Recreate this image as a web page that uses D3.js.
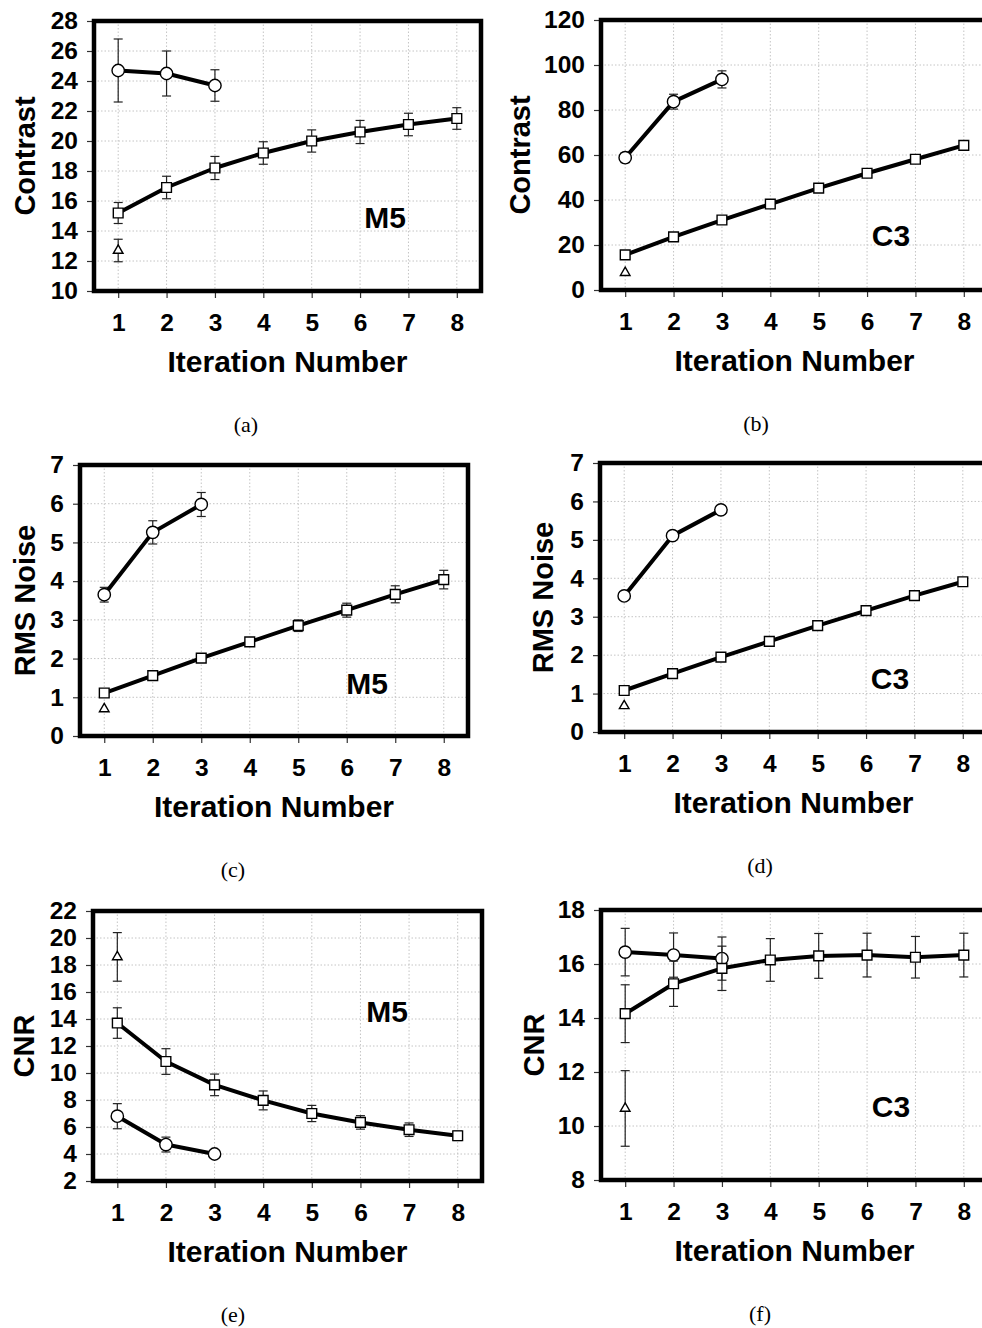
<!DOCTYPE html>
<html>
<head>
<meta charset="utf-8">
<style>
  body { margin: 0; background: #fff; }
  text { font-family: "Liberation Sans", Arial, Helvetica, sans-serif; }
</style>
</head>
<body>
<div id="my_dataviz"></div>
<script src="https://d3js.org/d3.v7.min.js"></script>
<script>

// iteration numbers on every x axis
var iterations = [1, 2, 3, 4, 5, 6, 7, 8];

// (a) Contrast, M5
var contrastM5Circle    = [24.7, 24.5, 23.7];
var contrastM5CircleErr = [2.1, 1.5, 1.05];
var contrastM5Square    = [15.2, 16.9, 18.2, 19.2, 20.0, 20.6, 21.1, 21.5];
var contrastM5SquareErr = [0.7, 0.75, 0.77, 0.75, 0.74, 0.77, 0.75, 0.72];
var contrastM5Tri       = [12.7];
var contrastM5TriErr    = [0.75];
var contrastM5Ticks     = [10, 12, 14, 16, 18, 20, 22, 24, 26, 28];

// (b) Contrast, C3
var contrastC3Circle    = [58.8, 83.7, 93.6];
var contrastC3CircleErr = [2.2, 3.3, 3.8];
var contrastC3Square    = [15.6, 23.6, 31.1, 38.2, 45.3, 51.9, 58.1, 64.3];
var contrastC3SquareErr = [0.8, 0.8, 0.8, 0.8, 0.8, 1.0, 1.0, 2.0];
var contrastC3Tri       = [7.7];
var contrastC3TriErr    = [0];
var contrastC3Ticks     = [0, 20, 40, 60, 80, 100, 120];

// (c) RMS noise, M5
var noiseM5Circle    = [3.65, 5.26, 5.98];
var noiseM5CircleErr = [0.19, 0.3, 0.31];
var noiseM5Square    = [1.11, 1.56, 2.01, 2.43, 2.85, 3.25, 3.66, 4.04];
var noiseM5SquareErr = [0.05, 0.05, 0.07, 0.1, 0.15, 0.18, 0.22, 0.24];
var noiseM5Tri       = [0.70];
var noiseM5TriErr    = [0];

// (d) RMS noise, C3
var noiseC3Circle    = [3.54, 5.11, 5.78];
var noiseC3CircleErr = [0, 0, 0];
var noiseC3Square    = [1.08, 1.52, 1.95, 2.36, 2.77, 3.16, 3.55, 3.91];
var noiseC3SquareErr = [0, 0, 0, 0, 0, 0, 0, 0];
var noiseC3Tri       = [0.68];
var noiseC3TriErr    = [0];
var noiseTicks       = [0, 1, 2, 3, 4, 5, 6, 7];

// (e) CNR, M5
var cnrM5Circle    = [6.8, 4.7, 4.0];
var cnrM5CircleErr = [0.93, 0.55, 0.2];
var cnrM5Square    = [13.7, 10.85, 9.12, 7.97, 7.0, 6.34, 5.8, 5.35];
var cnrM5SquareErr = [1.13, 0.95, 0.8, 0.7, 0.6, 0.5, 0.5, 0.35];
var cnrM5Tri       = [18.6];
var cnrM5TriErr    = [1.8];
var cnrM5Ticks     = [2, 4, 6, 8, 10, 12, 14, 16, 18, 20, 22];

// (f) CNR, C3
var cnrC3Circle    = [16.44, 16.33, 16.2];
var cnrC3CircleErr = [0.88, 0.82, 0.8];
var cnrC3Square    = [14.16, 15.27, 15.84, 16.15, 16.3, 16.33, 16.25, 16.33];
var cnrC3SquareErr = [1.07, 0.84, 0.82, 0.79, 0.83, 0.81, 0.77, 0.81];
var cnrC3Tri       = [10.65];
var cnrC3TriErr    = [1.4];
var cnrC3Ticks     = [8, 10, 12, 14, 16, 18];


var svg = d3.select("#my_dataviz")
  .append("svg")
    .attr("width", 982)
    .attr("height", 1328);

// layout of the six panels (pixels)
var panels = [
  { left: 94,  right: 481, top: 21,  bottom: 291,  ydom: [10, 28], ticks: contrastM5Ticks, ylabel: "Contrast",  ylabelX: 25,
    circle: contrastM5Circle, circleErr: contrastM5CircleErr, square: contrastM5Square, squareErr: contrastM5SquareErr, tri: contrastM5Tri, triErr: contrastM5TriErr,
    tag: "M5", tagX: 385, tagY: 217, sub: "(a)", subX: 246 },
  { left: 601, right: 988, top: 20,  bottom: 290,  ydom: [0, 120], ticks: contrastC3Ticks, ylabel: "Contrast",  ylabelX: 520,
    circle: contrastC3Circle, circleErr: contrastC3CircleErr, square: contrastC3Square, squareErr: contrastC3SquareErr, tri: contrastC3Tri, triErr: contrastC3TriErr,
    tag: "C3", tagX: 891, tagY: 235, sub: "(b)", subX: 756 },
  { left: 80,  right: 468, top: 465, bottom: 736,  ydom: [0, 7],   ticks: noiseTicks,      ylabel: "RMS Noise", ylabelX: 25,
    circle: noiseM5Circle, circleErr: noiseM5CircleErr, square: noiseM5Square, squareErr: noiseM5SquareErr, tri: noiseM5Tri, triErr: noiseM5TriErr,
    tag: "M5", tagX: 367, tagY: 683, sub: "(c)", subX: 233 },
  { left: 600, right: 987, top: 463, bottom: 732,  ydom: [0, 7],   ticks: noiseTicks,      ylabel: "RMS Noise", ylabelX: 543,
    circle: noiseC3Circle, circleErr: noiseC3CircleErr, square: noiseC3Square, squareErr: noiseC3SquareErr, tri: noiseC3Tri, triErr: noiseC3TriErr,
    tag: "C3", tagX: 890, tagY: 678, sub: "(d)", subX: 760 },
  { left: 93,  right: 482, top: 911, bottom: 1181, ydom: [2, 22],  ticks: cnrM5Ticks,      ylabel: "CNR",       ylabelX: 24,
    circle: cnrM5Circle, circleErr: cnrM5CircleErr, square: cnrM5Square, squareErr: cnrM5SquareErr, tri: cnrM5Tri, triErr: cnrM5TriErr,
    tag: "M5", tagX: 387, tagY: 1011, sub: "(e)", subX: 233 },
  { left: 601, right: 988, top: 910, bottom: 1180, ydom: [8, 18],  ticks: cnrC3Ticks,      ylabel: "CNR",       ylabelX: 534,
    circle: cnrC3Circle, circleErr: cnrC3CircleErr, square: cnrC3Square, squareErr: cnrC3SquareErr, tri: cnrC3Tri, triErr: cnrC3TriErr,
    tag: "C3", tagX: 891, tagY: 1106, sub: "(f)", subX: 760 }
];

panels.forEach(drawPanel);

function drawPanel(p) {
  var g = svg.append("g");

  var x = d3.scaleLinear().domain([0.5, 8.5]).range([p.left, p.right]);
  var y = d3.scaleLinear().domain(p.ydom).range([p.bottom, p.top]);

  // dotted grid
  g.selectAll("vgrid").data(iterations).enter().append("line")
    .attr("x1", function(d) { return x(d); }).attr("x2", function(d) { return x(d); })
    .attr("y1", p.top).attr("y2", p.bottom)
    .attr("stroke", "#c4c4c4").attr("stroke-width", 1).attr("stroke-dasharray", "1.5,2");
  g.selectAll("hgrid").data(p.ticks).enter().append("line")
    .attr("x1", p.left).attr("x2", p.right)
    .attr("y1", function(d) { return y(d); }).attr("y2", function(d) { return y(d); })
    .attr("stroke", "#c4c4c4").attr("stroke-width", 1).attr("stroke-dasharray", "1.5,2");

  // axes
  var xa = g.append("g")
    .attr("transform", "translate(0," + p.bottom + ")")
    .call(d3.axisBottom(x).tickValues(iterations).tickSize(7).tickPadding(16).tickFormat(d3.format("d")));
  var ya = g.append("g")
    .attr("transform", "translate(" + p.left + ",0)")
    .call(d3.axisLeft(y).tickValues(p.ticks).tickSize(7).tickPadding(9).tickFormat(d3.format("d")));
  [xa, ya].forEach(function(a) {
    a.select(".domain").remove();
    a.selectAll("line").attr("stroke", "#333").attr("stroke-width", 1.2);
    a.selectAll("text").attr("fill", "#000")
      .style("font-family", "'Liberation Sans', Arial, sans-serif")
      .style("font-weight", "bold").style("font-size", "24.5px");
  });

  // frame
  g.append("rect")
    .attr("x", p.left).attr("y", p.top)
    .attr("width", p.right - p.left).attr("height", p.bottom - p.top)
    .attr("fill", "none").attr("stroke", "#000").attr("stroke-width", 4.5);

  // axis titles
  g.append("text")
    .attr("transform", "translate(" + p.ylabelX + "," + ((p.top + p.bottom) / 2) + ")rotate(-90)")
    .attr("dy", "0.35em")
    .attr("text-anchor", "middle")
    .style("font-weight", "bold").style("font-size", "29px")
    .text(p.ylabel);
  g.append("text")
    .attr("x", (p.left + p.right) / 2).attr("y", p.bottom + 81)
    .attr("text-anchor", "middle")
    .style("font-weight", "bold").style("font-size", "30px")
    .text("Iteration Number");

  // sample tag and sub-figure label
  g.append("text")
    .attr("x", p.tagX).attr("y", p.tagY).attr("dy", "0.35em")
    .attr("text-anchor", "middle")
    .style("font-weight", "bold").style("font-size", "30px")
    .text(p.tag);
  g.append("text")
    .attr("x", p.subX).attr("y", p.bottom + 141)
    .attr("text-anchor", "middle")
    .style("font-family", "'Liberation Serif', 'Times New Roman', serif").style("font-size", "22px")
    .text(p.sub);

  var series = [
    { vals: p.circle, err: p.circleErr, shape: "circle" },
    { vals: p.square, err: p.squareErr, shape: "square" },
    { vals: p.tri,    err: p.triErr,    shape: "tri" }
  ];

  series.forEach(function(s) {
    var pts = s.vals.map(function(v, i) { return { it: iterations[i], v: v, e: s.err[i] }; });

    // error bars
    var eb = g.selectAll("eb").data(pts.filter(function(d) { return d.e > 0; })).enter().append("g")
      .attr("stroke", "#222").attr("stroke-width", 1.2);
    eb.append("line")
      .attr("x1", function(d) { return x(d.it); }).attr("x2", function(d) { return x(d.it); })
      .attr("y1", function(d) { return y(d.v - d.e); }).attr("y2", function(d) { return y(d.v + d.e); });
    eb.append("line")
      .attr("x1", function(d) { return x(d.it) - 4.5; }).attr("x2", function(d) { return x(d.it) + 4.5; })
      .attr("y1", function(d) { return y(d.v + d.e); }).attr("y2", function(d) { return y(d.v + d.e); });
    eb.append("line")
      .attr("x1", function(d) { return x(d.it) - 4.5; }).attr("x2", function(d) { return x(d.it) + 4.5; })
      .attr("y1", function(d) { return y(d.v - d.e); }).attr("y2", function(d) { return y(d.v - d.e); });

    // line
    if (pts.length > 1) {
      g.append("path")
        .datum(pts)
        .attr("fill", "none").attr("stroke", "#000").attr("stroke-width", 4)
        .attr("stroke-linejoin", "round")
        .attr("d", d3.line().x(function(d) { return x(d.it); }).y(function(d) { return y(d.v); }));
    }

    // markers
    var sym = s.shape == "circle" ? d3.symbolCircle : (s.shape == "square" ? d3.symbolSquare : d3.symbolTriangle);
    var size = s.shape == "circle" ? 120 : (s.shape == "square" ? 95 : 40);
    g.selectAll("mk").data(pts).enter().append("path")
      .attr("transform", function(d) { return "translate(" + x(d.it) + "," + y(d.v) + ")"; })
      .attr("d", d3.symbol().type(sym).size(size))
      .attr("fill", "#fff").attr("stroke", "#000").attr("stroke-width", 1.4);
  });
}

</script>
</body>
</html>
